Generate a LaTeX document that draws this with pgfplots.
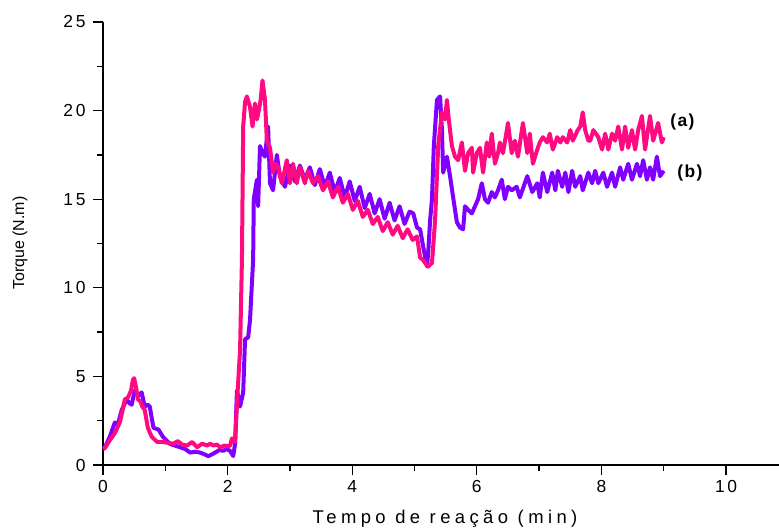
\documentclass[border=0pt]{standalone}
\usepackage{fontspec}
\setmainfont{Liberation Sans}
\usepackage{pgfplots}
\pgfplotsset{compat=1.18}
\definecolor{cmag}{HTML}{FF0A80}
\definecolor{cpur}{HTML}{8000FF}
\begin{document}
\begin{tikzpicture}
\path[use as bounding box] (-103bp,-66bp) rectangle (676bp,465bp);
\begin{axis}[
  at={(0,0)}, anchor=origin,
  scale only axis, width=676bp, height=443bp,
  xmin=0, xmax=10.85, ymin=0, ymax=25,
  axis x line=bottom, axis y line=left,
  axis line style={-, line width=1.3bp, black},
  xtick={0,2,4,6,8,10}, minor xtick={1,3,5,7,9},
  ytick={0,5,10,15,20,25}, minor ytick={2.5,7.5,12.5,17.5,22.5},
  tick align=outside,
  major tick length=10bp, minor tick length=6bp,
  every tick/.style={black, line width=1.3bp},
  /pgf/number format/assume math mode=true,
  ticklabel style={font=\fontsize{17.5}{19}\selectfont\addfontfeature{LetterSpace=15}},
  yticklabel style={xshift=-4bp},
  xticklabel style={yshift=-2bp},
  xlabel={Tempo de reação (min)},
  ylabel={Torque (N.m)},
  xlabel style={font=\fontsize{18.5}{20}\selectfont\addfontfeature{LetterSpace=24}, at={(axis description cs:0.506,-0.122)}, anchor=center},
  ylabel style={font=\fontsize{16}{18}\selectfont, at={(axis description cs:-0.1228,0.501)}, anchor=center},
  clip=false,
]
\addplot[cpur, line width=4bp, line join=round] coordinates {
(0.00,1.0)(0.03,1.0)(0.11,1.6)(0.19,2.4)(0.24,2.3)(0.30,3.1)(0.38,3.7)(0.42,3.5)(0.46,3.4)(0.51,4.2)
(0.57,3.9)(0.62,4.1)(0.67,3.3)(0.72,3.4)(0.75,3.3)(0.81,2.1)(0.89,2.0)(0.96,1.6)(1.07,1.2)(1.15,1.1)
(1.24,1.0)(1.32,0.9)(1.40,0.7)(1.48,0.75)(1.56,0.7)(1.63,0.6)(1.69,0.5)(1.75,0.6)(1.80,0.7)(1.87,0.85)
(1.93,0.8)(1.98,0.9)(2.04,0.8)(2.09,0.5)(2.12,1.2)(2.15,4.2)(2.20,3.3)(2.25,4.1)(2.28,7.1)(2.33,7.2)
(2.36,8.2)(2.41,11.6)(2.42,15.0)(2.47,16.1)(2.49,14.6)(2.52,18.0)(2.56,17.6)(2.60,17.4)(2.65,19.1)(2.68,15.9)
(2.73,15.5)(2.79,17.5)(2.84,16.3)(2.92,15.7)(3.00,16.9)(3.08,16.0)(3.16,16.9)(3.24,16.1)(3.32,16.8)(3.40,15.8)
(3.48,16.7)(3.56,15.7)(3.64,16.5)(3.72,15.4)(3.80,16.2)(3.88,15.1)(3.96,16.0)(4.04,14.9)(4.12,15.7)(4.20,14.5)
(4.28,15.3)(4.36,14.2)(4.44,15.0)(4.52,13.9)(4.60,14.8)(4.68,13.8)(4.76,14.6)(4.84,13.6)(4.92,14.3)(4.98,14.2)
(5.04,13.4)(5.09,13.3)(5.14,12.3)(5.20,11.2)(5.22,12.0)(5.25,13.8)(5.28,15.0)(5.31,18.0)(5.36,20.6)(5.41,20.8)
(5.44,18.9)(5.46,16.5)(5.52,17.4)(5.57,16.3)(5.62,15.1)(5.68,13.7)(5.73,13.4)(5.78,13.3)(5.81,14.6)(5.86,14.4)
(5.92,14.2)(5.97,14.6)(6.02,15.0)(6.08,15.9)(6.13,15.0)(6.18,14.8)(6.24,15.4)(6.29,15.1)(6.34,15.5)(6.40,16.1)
(6.45,15.0)(6.50,15.7)(6.56,15.5)(6.64,15.7)(6.69,15.1)(6.81,16.3)(6.89,15.4)(6.97,15.9)(7.01,15.1)(7.06,16.5)
(7.13,15.4)(7.21,16.5)(7.26,15.5)(7.30,16.6)(7.37,15.7)(7.42,16.5)(7.47,15.4)(7.53,16.6)(7.58,15.7)(7.66,16.3)
(7.70,15.5)(7.79,16.5)(7.85,15.9)(7.90,16.6)(7.95,15.9)(8.03,16.5)(8.09,15.7)(8.17,16.5)(8.22,15.7)(8.30,16.8)
(8.35,16.1)(8.43,17.0)(8.49,16.1)(8.57,17.0)(8.62,16.3)(8.67,17.2)(8.73,16.1)(8.78,16.8)(8.83,16.1)(8.89,17.4)
(8.94,16.3)(9.00,16.6)
};
\addplot[cmag, line width=4bp, line join=round] coordinates {
(0.00,0.9)(0.03,0.95)(0.11,1.4)(0.19,1.8)(0.27,2.4)(0.31,3.0)(0.35,3.7)(0.40,3.8)(0.45,4.2)(0.48,4.8)
(0.50,4.9)(0.53,4.4)(0.56,3.7)(0.60,3.6)(0.63,3.3)(0.67,3.1)(0.72,2.1)(0.78,1.6)(0.87,1.3)(0.96,1.3)
(1.05,1.25)(1.13,1.2)(1.20,1.35)(1.27,1.15)(1.35,1.1)(1.43,1.3)(1.51,1.0)(1.59,1.2)(1.67,1.1)(1.72,1.2)
(1.77,1.1)(1.83,1.15)(1.88,1.0)(1.95,1.1)(2.00,1.05)(2.04,1.1)(2.07,1.5)(2.10,1.45)(2.12,1.3)(2.16,4.1)
(2.20,6.5)(2.23,11.6)(2.25,19.1)(2.28,20.5)(2.31,20.8)(2.36,20.2)(2.40,19.1)(2.44,20.4)(2.47,19.5)(2.50,20.0)
(2.53,20.6)(2.56,21.7)(2.60,20.6)(2.63,18.3)(2.68,17.9)(2.73,16.5)(2.77,17.0)(2.81,16.8)(2.87,15.9)(2.95,17.2)
(3.00,15.9)(3.05,17.0)(3.11,15.9)(3.16,16.8)(3.24,15.9)(3.29,16.6)(3.37,15.9)(3.45,16.3)(3.53,15.5)(3.61,16.0)
(3.69,15.1)(3.77,15.7)(3.85,14.8)(3.93,15.3)(4.01,14.4)(4.09,14.9)(4.17,14.0)(4.25,14.4)(4.33,13.6)(4.41,14.0)
(4.49,13.2)(4.57,13.7)(4.65,13.0)(4.73,13.5)(4.81,12.8)(4.89,13.3)(4.97,12.7)(5.04,12.9)(5.09,11.7)(5.13,11.6)
(5.17,11.4)(5.22,11.2)(5.28,11.4)(5.33,13.8)(5.38,18.0)(5.44,19.9)(5.49,19.5)(5.52,20.6)(5.55,19.5)(5.60,18.0)
(5.65,17.4)(5.70,17.2)(5.76,18.2)(5.81,16.6)(5.86,17.6)(5.92,17.9)(5.94,16.5)(6.00,17.6)(6.05,17.9)(6.10,16.5)
(6.16,18.2)(6.20,17.4)(6.24,18.7)(6.29,17.0)(6.34,17.6)(6.37,18.2)(6.42,17.6)(6.50,19.3)(6.56,17.6)(6.61,18.3)
(6.66,17.4)(6.74,19.3)(6.81,17.6)(6.85,18.7)(6.90,17.0)(6.97,17.8)(7.01,18.2)(7.06,18.5)(7.13,18.2)(7.17,18.7)
(7.22,17.8)(7.29,18.5)(7.34,18.2)(7.38,18.5)(7.45,18.2)(7.50,18.9)(7.54,18.3)(7.62,18.9)(7.66,19.1)(7.70,19.9)
(7.74,18.9)(7.79,18.3)(7.82,18.3)(7.87,18.9)(7.95,18.5)(8.01,17.8)(8.06,18.7)(8.11,17.8)(8.17,18.7)(8.22,18.3)
(8.27,19.1)(8.33,17.8)(8.38,19.1)(8.43,17.9)(8.49,18.9)(8.54,17.8)(8.59,18.9)(8.65,19.7)(8.70,17.8)(8.78,19.7)
(8.83,18.3)(8.91,19.3)(8.97,18.2)(9.00,18.5)
};
\node[font=\fontsize{17.5}{19}\selectfont\bfseries\addfontfeature{LetterSpace=8}] at (axis cs:9.30,19.36) {(a)};
\node[font=\fontsize{17.5}{19}\selectfont\bfseries\addfontfeature{LetterSpace=8}] at (axis cs:9.42,16.5) {(b)};
\end{axis}
\end{tikzpicture}
\end{document}
